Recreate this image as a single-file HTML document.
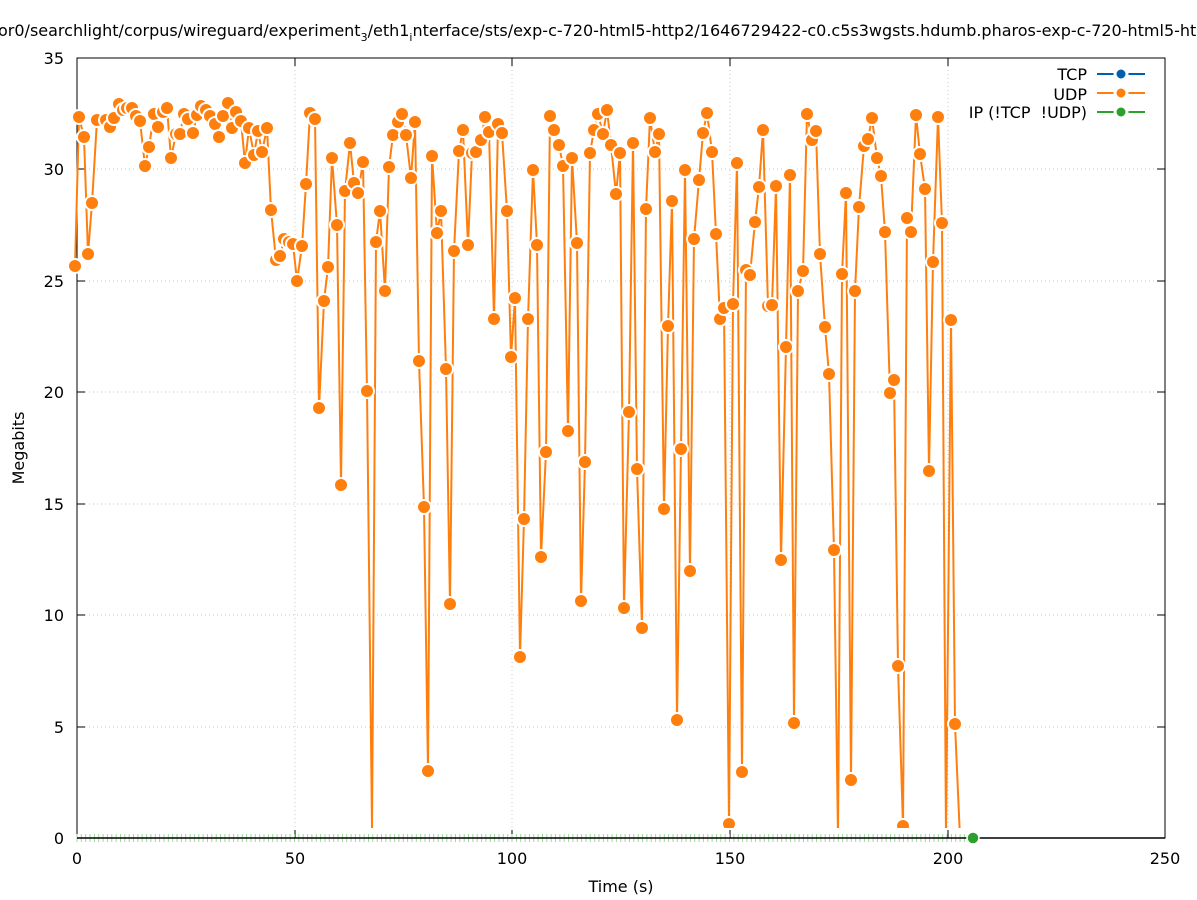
<!DOCTYPE html>
<html><head><meta charset="utf-8"><style>
html,body{margin:0;padding:0;background:#fff;}
svg{display:block;font-family:"DejaVu Sans","Liberation Sans",sans-serif;}
</style></head><body>
<svg id="s" width="1197" height="900" xmlns="http://www.w3.org/2000/svg">
<defs><clipPath id="cp"><rect x="60" y="50" width="1105" height="778"/></clipPath></defs>
<rect width="1197" height="900" fill="#fff"/>
<g stroke="#c8c8c8" stroke-width="1" stroke-dasharray="1,3">
<line x1="295" y1="58" x2="295" y2="838"/><line x1="512" y1="58" x2="512" y2="838"/><line x1="730" y1="58" x2="730" y2="838"/><line x1="948" y1="58" x2="948" y2="838"/>
<line x1="77" y1="727" x2="1165" y2="727"/><line x1="77" y1="615" x2="1165" y2="615"/><line x1="77" y1="504" x2="1165" y2="504"/><line x1="77" y1="392" x2="1165" y2="392"/><line x1="77" y1="281" x2="1165" y2="281"/><line x1="77" y1="169" x2="1165" y2="169"/>
</g>
<rect x="77" y="58" width="1088" height="780" fill="none" stroke="#000" stroke-width="1"/>
<g stroke="#000" stroke-width="1" id="ticks"></g>
<g stroke="#9ed89e" stroke-width="1" id="gt"></g>
<g font-size="16" fill="#000" text-anchor="end">
<text x="64" y="844">0</text><text x="64" y="733">5</text><text x="64" y="621">10</text><text x="64" y="510">15</text><text x="64" y="398">20</text><text x="64" y="287">25</text><text x="64" y="175">30</text><text x="64" y="64">35</text>
</g>
<g font-size="16" fill="#000" text-anchor="middle">
<text x="77" y="864">0</text><text x="295" y="864">50</text><text x="512" y="864">100</text><text x="730" y="864">150</text><text x="948" y="864">200</text><text x="1165" y="864">250</text>
<text x="621" y="892">Time (s)</text>
<text transform="translate(24,448) rotate(-90)">Megabits</text>
</g>
<text x="-2" y="36" font-size="16" fill="#000">or0/searchlight/corpus/wireguard/experiment<tspan font-size="11" dy="5">3</tspan><tspan dy="-5">/eth1</tspan><tspan font-size="11" dy="5">i</tspan><tspan dy="-5">nterface/sts/exp-c-720-html5-http2/1646729422-c0.c5s3wgsts.hdumb.pharos-exp-c-720-html5-ht</tspan></text>
<g clip-path="url(#cp)">
<polyline id="pl" fill="none" stroke="#ff7f0e" stroke-width="2"/>
<g id="pts"></g>
</g>
<line x1="77" y1="838" x2="1165" y2="838" stroke="#000" stroke-width="1.5"/>
<circle cx="973" cy="838" r="6" fill="#2ca02c" stroke="#fff" stroke-width="1.5"/>
<g font-size="16" fill="#000" text-anchor="end">
<text x="1087" y="80">TCP</text><text x="1087" y="100">UDP</text><text x="1087" y="118" xml:space="preserve">IP (!TCP  !UDP)</text>
</g>
<line x1="1097" y1="74" x2="1145" y2="74" stroke="#0060ad" stroke-width="2"/><circle cx="1121" cy="74" r="6" fill="#0060ad" stroke="#fff" stroke-width="3"/>
<line x1="1097" y1="93" x2="1145" y2="93" stroke="#ff7f0e" stroke-width="2"/><circle cx="1121" cy="93" r="6" fill="#ff7f0e" stroke="#fff" stroke-width="3"/>
<line x1="1097" y1="112" x2="1145" y2="112" stroke="#2ca02c" stroke-width="2"/><circle cx="1121" cy="112" r="6" fill="#2ca02c" stroke="#fff" stroke-width="3"/>
</svg>
<script>
var P=[75,266,79,117,84,137,88,254,92,203,97,120,106,120,110,127,114,118,119,104,123,110,127,108,132,108,136,116,140,121,145,166,149,147,154,114,158,127,163,112,167,108,171,158,176,134,180,134,184,114,188,119,193,133,197,115,201,106,206,110,210,116,215,124,219,137,223,116,228,103,232,128,236,112,241,121,245,163,249,128,254,155,258,131,262,152,267,128,271,210,276,260,280,256,284,239,289,242,293,244,297,281,302,246,306,184,310,113,315,119,319,408,324,301,328,267,332,158,337,225,341,485,345,191,350,143,354,183,358,193,363,162,367,391,372,828,376,242,380,211,385,291,389,167,393,135,398,122,402,114,406,135,411,178,415,122,419,361,424,507,428,771,432,156,437,233,441,211,446,369,450,604,454,251,459,151,463,130,468,245,472,153,476,152,481,140,485,117,489,132,494,319,498,124,502,133,507,211,511,357,515,298,520,657,524,519,528,319,533,170,537,245,541,557,546,452,550,116,554,130,559,145,563,166,568,431,572,158,577,243,581,601,585,462,590,153,594,130,598,114,603,134,607,110,611,145,616,194,620,153,624,608,629,412,633,143,637,469,642,628,646,209,650,118,655,152,659,134,664,509,668,326,672,201,677,720,681,449,685,170,690,571,694,239,699,180,703,133,707,113,712,152,716,234,720,319,724,308,729,824,733,304,737,163,742,772,746,270,750,275,755,222,759,187,763,130,768,306,772,305,776,186,781,560,786,347,790,175,794,723,798,291,803,271,807,114,812,140,816,131,820,254,825,327,829,374,834,550,838,838,842,274,846,193,851,780,855,291,859,207,864,146,868,139,872,118,877,158,881,176,885,232,890,393,894,380,898,666,903,826,907,218,911,232,916,115,920,154,925,189,929,471,933,262,938,117,942,223,946,838,951,320,955,724,960,838];
var s="",NS="http://www.w3.org/2000/svg";
for(var i=0;i<P.length;i+=2){s+=P[i]+","+P[i+1]+" ";}
document.getElementById("pl").setAttribute("points",s);
var g=document.getElementById("pts");
for(var i=0;i<P.length;i+=2){if([372,838,946,960].indexOf(P[i])>=0)continue;var e=document.createElementNS(NS,"circle");e.setAttribute("cx",P[i]);e.setAttribute("cy",P[i+1]);e.setAttribute("r",7);e.setAttribute("fill","#ff7f0e");e.setAttribute("stroke","#fff");e.setAttribute("stroke-width","2");g.appendChild(e);}
var t=document.getElementById("ticks");
function L(p,a,b,c2,d){var e=document.createElementNS(NS,"line");e.setAttribute("x1",a);e.setAttribute("y1",b);e.setAttribute("x2",c2);e.setAttribute("y2",d);p.appendChild(e);}
[77,295,512,730,948,1165].forEach(function(x){L(t,x,838,x,830);L(t,x,58,x,66);});
[838,727,615,504,392,281,169,58].forEach(function(y){L(t,77,y,85,y);L(t,1165,y,1157,y);});
var gt=document.getElementById("gt");
for(var x=77;x<970;x+=4.35){L(gt,x.toFixed(1),834,x.toFixed(1),842);}
</script>
</body></html>
